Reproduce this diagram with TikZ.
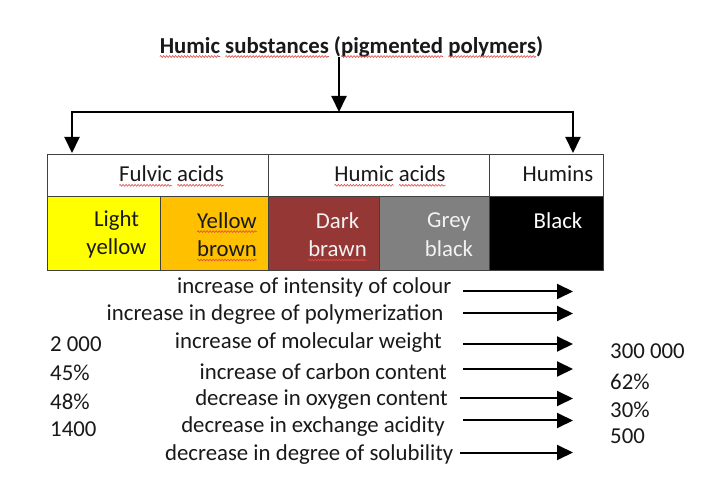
\documentclass[tikz,border=0pt]{standalone}
\usepackage{fontspec}
\setmainfont{Carlito}
\usetikzlibrary{arrows.meta, decorations.pathmorphing}

\definecolor{lightyellow}{RGB}{255,255,0}
\definecolor{yellowbrown}{RGB}{255,192,0}
\definecolor{darkbrawn}{RGB}{149,55,53}
\definecolor{greyblack}{RGB}{128,128,128}
\definecolor{spellred}{RGB}{222,72,72}

\tikzset{
	cell/.style = {draw = black!75, line width = 0.9pt, inner sep = 0pt},
	words/.style = {font = \fontsize{22.8}{28.5}\selectfont, text = black!90, inner sep = 0pt, align = center},
	spell/.style = {spellred, line width = 0.6pt, decorate, decoration = {snake, amplitude = 0.9pt, segment length = 3pt}},
	flow/.style = {line width = 2pt}
}

\newcommand{\spellmark}[1]{\tikz[baseline = (w.base)] {\node [inner sep = 0pt, outer sep = 0pt] (w) {#1}; \draw [spell, overlay] ([yshift = -3.5pt] w.base west) -- ([yshift = -3.5pt] w.base east);}}

\begin{document}
\begin{tikzpicture}[x = 1pt, y = -1pt, > = {Triangle[width = 15pt, length = 16pt]}]

	% Canvas
	
	\fill [white] (0, 0) rectangle (702, 478);
	
	% Title and split
	
	\node [words, font = \fontsize{22.8}{28.5}\selectfont\bfseries] (title) at (351.5, 46.5) {\spellmark{Humic} \spellmark{substances} (\spellmark{pigmented} \spellmark{polymers})};
	
	\coordinate (split) at (339, 112);
	\coordinate (fulvicin) at (72, 153);
	\coordinate (huminsin) at (573, 153);
	
	\draw [flow, ->] (title.south -| split) -- (split);
	\draw [flow, ->] (split) -| (fulvicin);
	\draw [flow, ->] (split) -| (huminsin);
	
	% Fractions
	
	\node [cell, minimum width = 221pt, minimum height = 42.2pt] (fulvic) at (157.5, 175.6) {};
	\node [cell, minimum width = 221pt, minimum height = 42.2pt] (humic) at (378.5, 175.6) {};
	\node [cell, minimum width = 114pt, minimum height = 42.2pt] (humins) at (546, 175.6) {};
	
	\node [words] (fulvictext) at (171.5, 174) {\spellmark{Fulvic} \spellmark{acids}};
	\node [words] (humictext) at (390, 174) {\spellmark{Humic} \spellmark{acids}};
	\node [words] (huminstext) at (558, 174) {Humins};
	
	% Colours
	
	\node [cell, fill = lightyellow, minimum width = 113pt, minimum height = 73.8pt] (light) at (103.5, 233.6) {};
	\node [cell, fill = yellowbrown, minimum width = 108pt, minimum height = 73.8pt] (brown) at (214, 233.6) {};
	\node [cell, fill = darkbrawn, minimum width = 111pt, minimum height = 73.8pt] (brawn) at (323.5, 233.6) {};
	\node [cell, fill = greyblack, minimum width = 110pt, minimum height = 73.8pt] (grey) at (434, 233.6) {};
	\node [cell, fill = black, minimum width = 114pt, minimum height = 73.8pt] (black) at (546, 233.6) {};
	
	\node [words] (lighttext) at (116.5, 234.5) {Light\\yellow};
	\node [words] (browntext) at (227, 234.5) {\spellmark{Yellow}\\\spellmark{brown}};
	\node [words, text = black!5] (brawntext) at (337.5, 234.5) {Dark\\\spellmark{brawn}};
	\node [words, text = black!5] (greytext) at (449, 234.5) {Grey\\black};
	\node [words, text = white] (blacktext) at (558, 221) {Black};
	
	% Trends
	
	\node [words, anchor = east] (colour) at (451.5, 287) {increase of intensity of colour};
	\node [words, anchor = east] (polymer) at (443.5, 315) {increase in degree of polymerization};
	\node [words, anchor = east] (weight) at (442, 343) {increase of molecular weight};
	\node [words, anchor = east] (carbon) at (447, 371.5) {increase of carbon content};
	\node [words, anchor = east] (oxygen) at (448, 400) {decrease in oxygen content};
	\node [words, anchor = east] (acidity) at (445, 427) {decrease in exchange acidity};
	\node [words, anchor = east] (solubility) at (453.5, 455) {decrease in degree of solubility};
	
	\coordinate (colourfrom) at (463, 291.5);
	\coordinate (colourto) at (573, 291.5);
	\coordinate (polymerfrom) at (463, 313.5);
	\coordinate (polymerto) at (573, 313.5);
	\coordinate (weightfrom) at (463, 344);
	\coordinate (weightto) at (573, 344);
	\coordinate (carbonfrom) at (463, 369);
	\coordinate (carbonto) at (573, 369);
	\coordinate (oxygenfrom) at (460, 398.5);
	\coordinate (oxygento) at (573, 398.5);
	\coordinate (acidityfrom) at (463, 420.5);
	\coordinate (acidityto) at (573, 420.5);
	\coordinate (solubilityfrom) at (460, 452.5);
	\coordinate (solubilityto) at (573, 452.5);
	
	\draw [flow, ->] (colourfrom) -- (colourto);
	\draw [flow, ->] (polymerfrom) -- (polymerto);
	\draw [flow, ->] (weightfrom) -- (weightto);
	\draw [flow, ->] (carbonfrom) -- (carbonto);
	\draw [flow, ->] (oxygenfrom) -- (oxygento);
	\draw [flow, ->] (acidityfrom) -- (acidityto);
	\draw [flow, ->] (solubilityfrom) -- (solubilityto);
	
	% Values
	
	\node [words, anchor = west] (weightlow) at (50, 344) {2 000};
	\node [words, anchor = west] (carbonlow) at (50, 373) {45\%};
	\node [words, anchor = west] (oxygenlow) at (50, 401.5) {48\%};
	\node [words, anchor = west] (aciditylow) at (50, 429) {1400};
	
	\node [words, anchor = west] (weighthigh) at (610, 351.5) {300 000};
	\node [words, anchor = west] (carbonhigh) at (610, 381.5) {62\%};
	\node [words, anchor = west] (oxygenhigh) at (610, 410) {30\%};
	\node [words, anchor = west] (acidityhigh) at (610, 436.5) {500};
	
\end{tikzpicture}
\end{document}
